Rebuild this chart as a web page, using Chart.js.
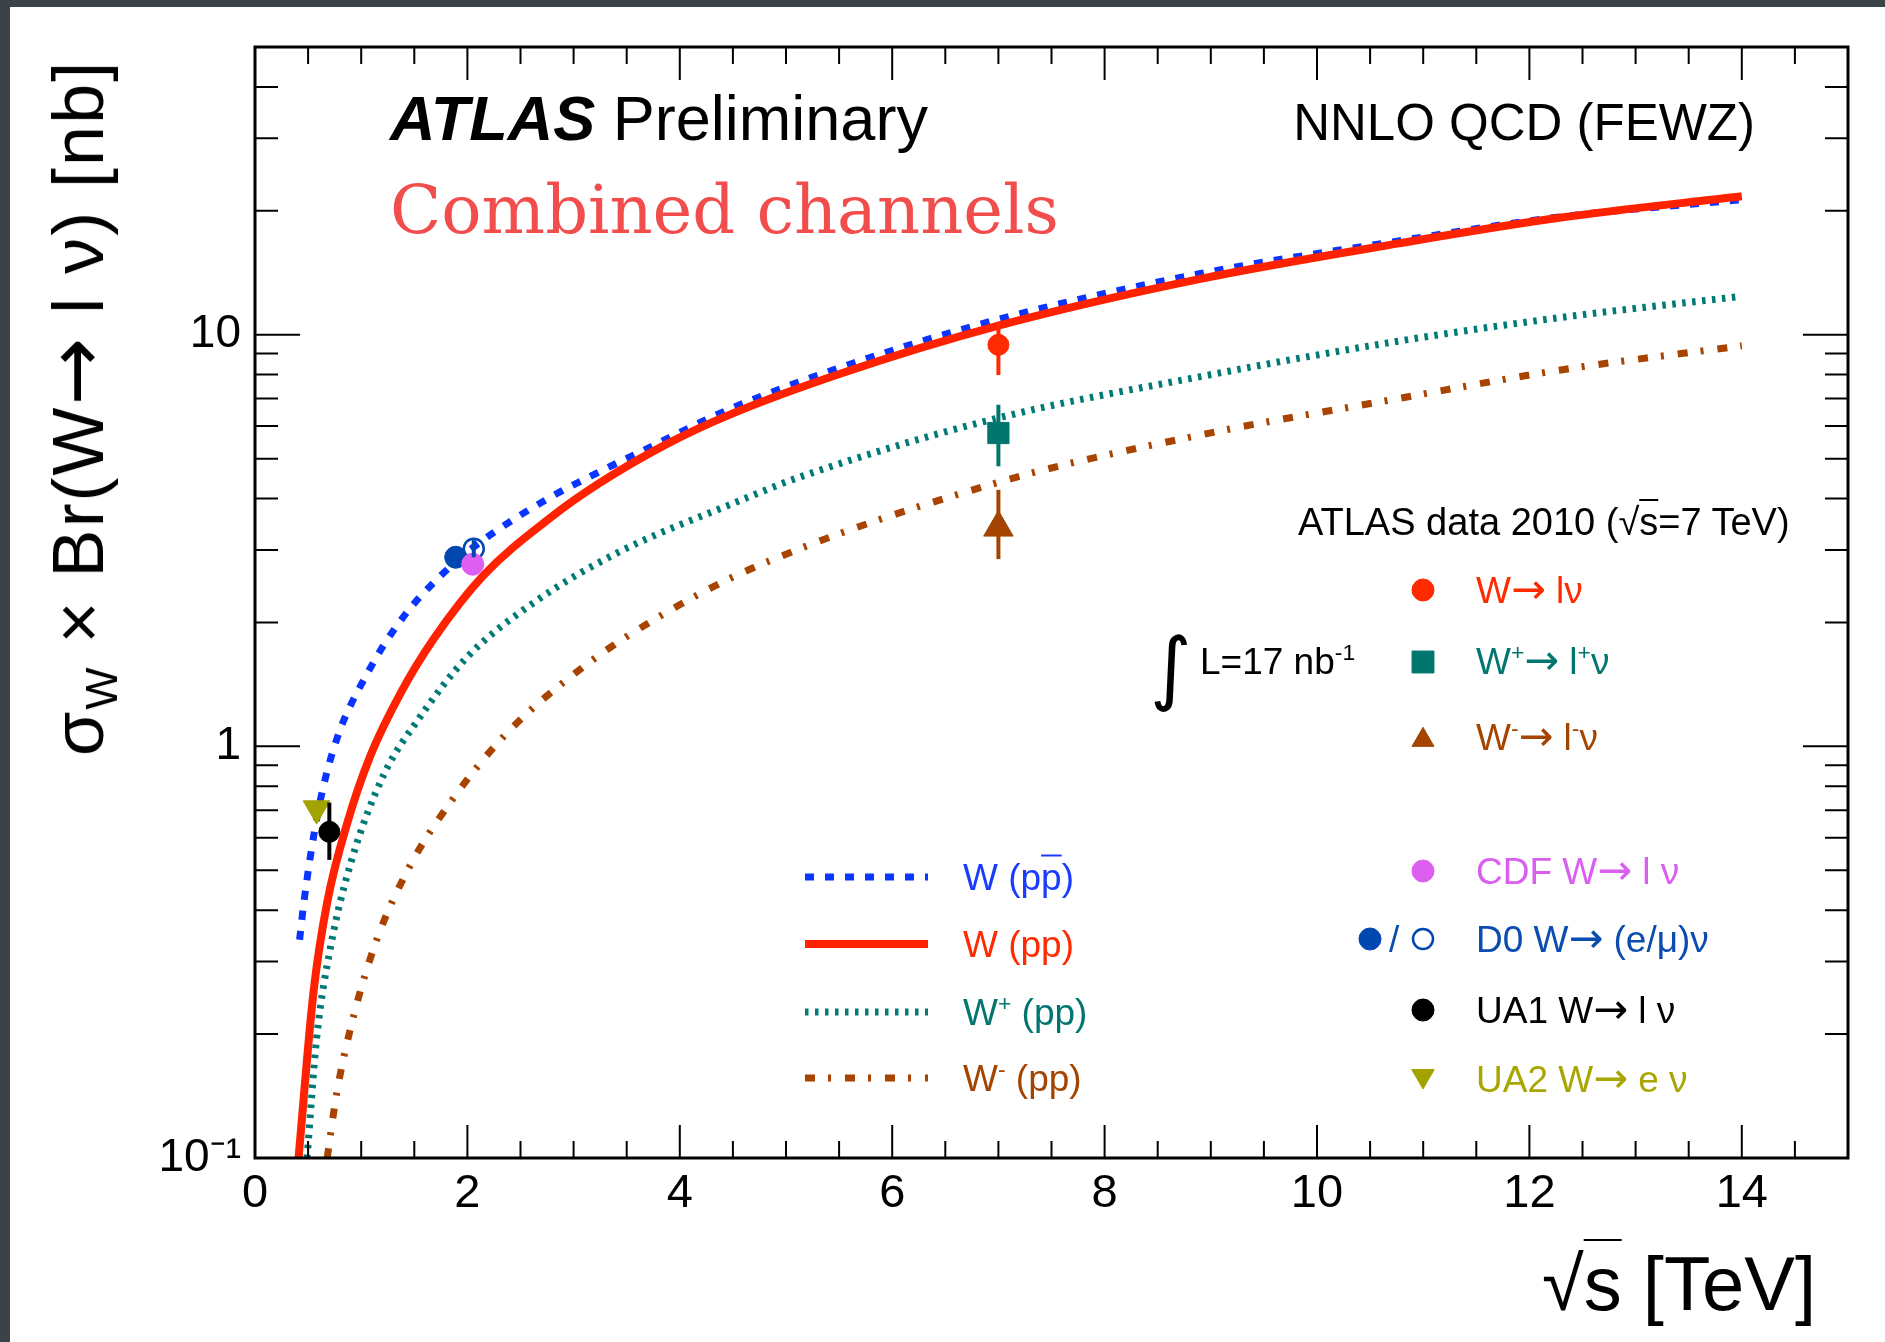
<!DOCTYPE html>
<html>
<head>
<meta charset="utf-8">
<title>W cross section vs sqrt(s)</title>
<script src="https://cdn.jsdelivr.net/npm/chart.js"></script>
<style>
  html, body { margin: 0; padding: 0; }
  body { width: 1885px; height: 1342px; background: #3c4348; position: relative; overflow: hidden;
         font-family: 'Liberation Sans', Arial, sans-serif; color: #000; }
  #paper { position: absolute; left: 10px; top: 7px; right: 0; bottom: 0; background: #fff; }
  #chart { position: absolute; left: 0; top: 0; }
  .t { position: absolute; white-space: nowrap; line-height: 1; transform: translateY(-50%); }
  sup, sub { font-size: 0.62em; line-height: 0; position: relative; vertical-align: baseline; }
  sup { top: -0.62em; }
  sub { top: 0.32em; }
  .ov { text-decoration: overline; text-decoration-thickness: 2px; }
  .ar { font-family: 'DejaVu Sans', sans-serif; font-size: 1.12em; line-height: 0; }
</style>
</head>
<body>
<div id="paper"></div>
<canvas id="chart" width="1885" height="1342"></canvas>

<div class="t" style="left:390px;top:118px;font-size:63px"><b><i>ATLAS</i></b> Preliminary</div>
<div class="t" style="right:130px;top:122px;font-size:51px">NNLO QCD (FEWZ)</div>
<div class="t" style="left:390px;top:210px;font-size:67px;font-family:'DejaVu Serif',serif;color:#f24d4d">Combined channels</div>

<div class="t" style="left:78px;top:408px;font-size:72px;letter-spacing:2px;transform:translate(-50%,-50%) rotate(-90deg)">σ<sub>W</sub> × Br(W<span class="ar">→</span> l ν) [nb]</div>
<div class="t" style="right:69px;top:1284px;font-size:76px">√<span class="ov">s</span> [TeV]</div>

<div class="t" style="left:1298px;top:522px;font-size:38px">ATLAS data 2010 (√<span class="ov">s</span>=7 TeV)</div>
<div class="t" style="left:1476px;top:590px;font-size:37px;color:#ff2a00">W<span class="ar">→</span> lν</div>
<div class="t" style="left:1476px;top:661px;font-size:37px;color:#00766f">W<sup>+</sup><span class="ar">→</span> l<sup>+</sup>ν</div>
<div class="t" style="left:1476px;top:737px;font-size:37px;color:#a34400">W<sup>-</sup><span class="ar">→</span> l<sup>-</sup>ν</div>
<div class="t" style="left:1150px;top:668px;font-size:80px;font-family:'DejaVu Sans',sans-serif">∫</div>
<div class="t" style="left:1200px;top:661px;font-size:37px">L=17 nb<sup>-1</sup></div>

<div class="t" style="left:1476px;top:871px;font-size:37px;color:#d95fef">CDF W<span class="ar">→</span> l ν</div>
<div class="t" style="left:1389px;top:939px;font-size:37px;color:#0a4cb0">/</div>
<div class="t" style="left:1476px;top:939px;font-size:37px;color:#0a4cb0">D0 W<span class="ar">→</span> (e/μ)ν</div>
<div class="t" style="left:1476px;top:1010px;font-size:37px">UA1 W<span class="ar">→</span> l ν</div>
<div class="t" style="left:1476px;top:1079px;font-size:37px;color:#a8a600">UA2 W<span class="ar">→</span> e ν</div>

<div class="t" style="left:963px;top:877px;font-size:37px;color:#1a3cff">W (p<span class="ov">p</span>)</div>
<div class="t" style="left:963px;top:944px;font-size:37px;color:#ff2a00">W (pp)</div>
<div class="t" style="left:963px;top:1012px;font-size:37px;color:#00766f">W<sup>+</sup> (pp)</div>
<div class="t" style="left:963px;top:1078px;font-size:37px;color:#a34400">W<sup>-</sup> (pp)</div>

<script>
// axes
const xTickValues = [0, 2, 4, 6, 8, 10, 12, 14];
const xTickLabels = ['0', '2', '4', '6', '8', '10', '12', '14'];
const yTickValues = [0.1, 1, 10];
const yTickLabels = ['10⁻¹', '1', '10'];

// NNLO QCD predictions, sqrt(s) in TeV, sigma x BR in nb
const sqrtsPpbar = [0.42, 0.46, 0.52, 0.60, 0.68, 0.80, 0.90, 1.00, 1.21, 1.46, 1.75, 2.00, 2.25, 2.78, 3.25, 3.57, 4.46, 5.51, 7.00, 8.89, 10.77, 12.28, 14.00];
const sigmaPpbar = [0.339, 0.417, 0.537, 0.708, 0.871, 1.096, 1.259, 1.413, 1.758, 2.163, 2.60, 2.965, 3.311, 4.027, 4.656, 5.105, 6.58, 8.32, 10.9, 14.06, 16.9, 19.32, 21.28];

const sqrtsPp = [0.41, 0.55, 0.68, 0.87, 1.08, 1.37, 1.68, 2.15, 2.78, 3.25, 3.88, 4.46, 5.51, 7.00, 8.89, 10.77, 12.28, 14.00];
const sigmaPp = [0.100, 0.252, 0.418, 0.653, 0.94, 1.345, 1.82, 2.60, 3.59, 4.37, 5.43, 6.38, 8.04, 10.52, 13.65, 16.67, 19.23, 21.7];

const sqrtsWplus = [0.49, 0.58, 0.71, 0.90, 1.21, 1.53, 2.00, 2.62, 3.41, 4.51, 5.14, 7.00, 8.89, 10.77, 12.28, 14.00];
const sigmaWplus = [0.100, 0.195, 0.324, 0.519, 0.851, 1.155, 1.65, 2.23, 2.95, 3.90, 4.52, 6.28, 7.90, 9.65, 11.0, 12.4];

const sqrtsWminus = [0.68, 0.77, 0.93, 1.15, 1.46, 1.84, 2.34, 3.10, 3.88, 4.67, 7.00, 8.89, 10.77, 12.28, 14.00];
const sigmaWminus = [0.100, 0.144, 0.222, 0.341, 0.513, 0.731, 1.056, 1.566, 2.12, 2.70, 4.38, 5.70, 7.00, 8.20, 9.40];

// measurements
const atlasSqrts = [7];
const atlasW = [9.45], atlasWHi = [10.75], atlasWLo = [7.98];
const atlasWplus = [5.77], atlasWplusHi = [6.76], atlasWplusLo = [4.79];
const atlasWminus = [3.40], atlasWminusHi = [4.20], atlasWminusLo = [2.85];
const cdfSqrts = [2.05], cdfW = [2.77];
const d0eSqrts = [1.89], d0eW = [2.88], d0eHi = [3.06], d0eLo = [2.72];
const d0muSqrts = [2.06], d0muW = [3.02], d0muHi = [3.17], d0muLo = [2.88];
const ua1Sqrts = [0.70], ua1W = [0.62], ua1Hi = [0.73], ua1Lo = [0.53];
const ua2Sqrts = [0.58], ua2W = [0.706];

const C = {
    ppbar: '#0a34ff', pp: '#ff2200', wplus: '#007a74', wminus: '#a84300',
    atlas: '#ff2a00', atlasPlus: '#00766f', atlasMinus: '#a34400',
    cdf: '#dd5ff2', d0: '#0048b0', ua1: '#000000', ua2: '#a3a300'
};

const toPoints = (xs, ys) => xs.map((x, i) => ({ x: x, y: ys[i] }));

function marker(data, color, style, radius, extra) {
    return Object.assign({
        data: data, showLine: false, pointStyle: style, pointRadius: radius,
        pointBackgroundColor: color, pointBorderColor: color, pointBorderWidth: 1, pointRotation: 0
    }, extra || {});
}

function curve(data, color, dash, width) {
    return {
        data: data, showLine: true, pointRadius: 0, borderColor: color, borderWidth: width,
        borderDash: dash, fill: false, cubicInterpolationMode: 'monotone', borderCapStyle: 'butt'
    };
}

const errorBars = [
    { xs: atlasSqrts, hi: atlasWHi, lo: atlasWLo, color: C.atlas },
    { xs: atlasSqrts, hi: atlasWplusHi, lo: atlasWplusLo, color: C.atlasPlus },
    { xs: atlasSqrts, hi: atlasWminusHi, lo: atlasWminusLo, color: C.atlasMinus },
    { xs: d0eSqrts, hi: d0eHi, lo: d0eLo, color: C.d0 },
    { xs: d0muSqrts, hi: d0muHi, lo: d0muLo, color: C.d0 },
    { xs: ua1Sqrts, hi: ua1Hi, lo: ua1Lo, color: C.ua1 }
];

// legend samples (positions only, styles come from the same colours)
const lineLegend = [
    { y: 877, color: C.ppbar, dash: [9, 11], width: 7 },
    { y: 944, color: C.pp, dash: [], width: 8 },
    { y: 1012, color: C.wplus, dash: [3.5, 6.5], width: 7 },
    { y: 1078, color: C.wminus, dash: [10, 13, 3, 14], width: 7 }
];
const markerLegend = [
    { x: 1423, y: 590, color: C.atlas, style: 'circle', r: 11 },
    { x: 1423, y: 662, color: C.atlasPlus, style: 'rect', r: 15.5 },
    { x: 1423, y: 740, color: C.atlasMinus, style: 'triangle', r: 12.7 },
    { x: 1423, y: 871, color: C.cdf, style: 'circle', r: 11 },
    { x: 1370, y: 939, color: C.d0, style: 'circle', r: 11 },
    { x: 1423, y: 939, color: C.d0, style: 'circle', r: 10, open: true },
    { x: 1423, y: 1010, color: C.ua1, style: 'circle', r: 11 },
    { x: 1423, y: 1076, color: C.ua2, style: 'triangle', r: 13, rot: 180 }
];

const rootFrame = {
    id: 'rootFrame',
    afterDatasetsDraw(chart) {
        const { ctx, chartArea: a, scales: { x, y } } = chart;
        ctx.save();

        // error bars
        ctx.lineWidth = 4;
        errorBars.forEach(eb => {
            ctx.strokeStyle = eb.color;
            eb.xs.forEach((v, i) => {
                const px = x.getPixelForValue(v);
                ctx.beginPath();
                ctx.moveTo(px, y.getPixelForValue(eb.lo[i]));
                ctx.lineTo(px, y.getPixelForValue(eb.hi[i]));
                ctx.stroke();
            });
        });

        // ticks pointing inwards on all four sides
        ctx.strokeStyle = '#000';
        ctx.lineWidth = 2;
        ctx.setLineDash([]);
        for (let i = 1; i < 30; i++) {
            const px = x.getPixelForValue(i / 2);
            const len = i % 4 === 0 ? 33 : 17;
            ctx.beginPath();
            ctx.moveTo(px, a.bottom); ctx.lineTo(px, a.bottom - len);
            ctx.moveTo(px, a.top); ctx.lineTo(px, a.top + len);
            ctx.stroke();
        }
        [0.1, 1, 10].forEach(d => {
            for (let k = 1; k < 10; k++) {
                const v = d * k;
                if (v > y.max) break;
                const py = y.getPixelForValue(v);
                const len = k === 1 ? 45 : 23;
                ctx.beginPath();
                ctx.moveTo(a.left, py); ctx.lineTo(a.left + len, py);
                ctx.moveTo(a.right, py); ctx.lineTo(a.right - len, py);
                ctx.stroke();
            }
        });

        ctx.lineWidth = 3;
        ctx.strokeRect(a.left, a.top, a.right - a.left, a.bottom - a.top);

        // legend samples
        lineLegend.forEach(l => {
            ctx.strokeStyle = l.color;
            ctx.lineWidth = l.width;
            ctx.setLineDash(l.dash);
            ctx.beginPath();
            ctx.moveTo(805, l.y); ctx.lineTo(928, l.y);
            ctx.stroke();
        });
        ctx.setLineDash([]);
        markerLegend.forEach(m => {
            ctx.fillStyle = m.open ? '#fff' : m.color;
            ctx.strokeStyle = m.color;
            ctx.lineWidth = m.open ? 2.5 : 1;
            Chart.helpers.drawPoint(ctx, { pointStyle: m.style, radius: m.r, rotation: m.rot || 0, borderWidth: ctx.lineWidth }, m.x, m.y);
        });
        ctx.restore();
    }
};

new Chart(document.getElementById('chart'), {
    type: 'scatter',
    data: {
        datasets: [
            marker(toPoints(atlasSqrts, atlasW), C.atlas, 'circle', 10.5),
            marker(toPoints(atlasSqrts, atlasWplus), C.atlasPlus, 'rect', 15),
            marker(toPoints(atlasSqrts, atlasWminus), C.atlasMinus, 'triangle', 17),
            marker(toPoints(cdfSqrts, cdfW), C.cdf, 'circle', 11),
            marker(toPoints(d0muSqrts, d0muW), C.d0, 'circle', 10, { pointBackgroundColor: 'rgba(255,255,255,0)', pointBorderWidth: 2.5 }),
            marker(toPoints(d0eSqrts, d0eW), C.d0, 'circle', 11),
            marker(toPoints(ua1Sqrts, ua1W), C.ua1, 'circle', 10.5),
            marker(toPoints(ua2Sqrts, ua2W), C.ua2, 'triangle', 15.5, { pointRotation: 180 }),
            curve(toPoints(sqrtsPp, sigmaPp), C.pp, [], 8),
            curve(toPoints(sqrtsPpbar, sigmaPpbar), C.ppbar, [9, 11], 7),
            curve(toPoints(sqrtsWplus, sigmaWplus), C.wplus, [3.5, 6.5], 7),
            curve(toPoints(sqrtsWminus, sigmaWminus), C.wminus, [10, 13, 3, 14], 7)
        ]
    },
    options: {
        responsive: false,
        animation: false,
        layout: { padding: { left: 0, top: 47, right: 37, bottom: 0 } },
        plugins: { legend: { display: false }, tooltip: { enabled: false } },
        scales: {
            x: {
                type: 'linear', min: 0, max: 15,
                grid: { display: false, drawTicks: false }, border: { display: false },
                afterBuildTicks: (s) => { s.ticks = xTickValues.map(v => ({ value: v })); },
                afterFit: (s) => { s.height = 184; },
                ticks: {
                    autoSkip: false, maxRotation: 0, padding: 8, color: '#000',
                    font: { family: "'Liberation Sans', Arial, sans-serif", size: 47 },
                    callback: (v) => xTickLabels[xTickValues.indexOf(v)]
                }
            },
            y: {
                type: 'logarithmic', min: 0.1, max: 50,
                grid: { display: false, drawTicks: false }, border: { display: false },
                afterBuildTicks: (s) => { s.ticks = yTickValues.map(v => ({ value: v })); },
                afterFit: (s) => { s.width = 255; },
                ticks: {
                    autoSkip: false, padding: 14, color: '#000',
                    font: { family: "'Liberation Sans', Arial, sans-serif", size: 46 },
                    callback: (v) => yTickLabels[yTickValues.indexOf(v)]
                }
            }
        }
    },
    plugins: [rootFrame]
});
</script>
</body>
</html>
